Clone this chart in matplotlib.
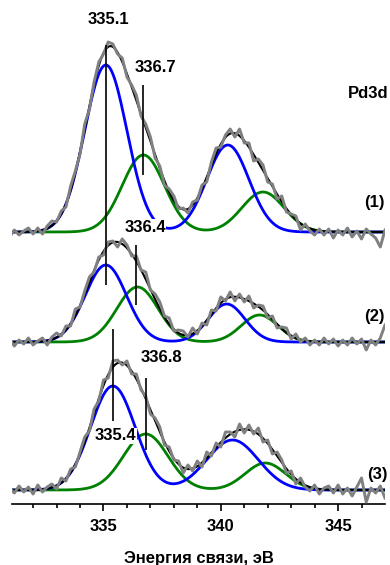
import numpy as np
import matplotlib
matplotlib.use("Agg")
import matplotlib.pyplot as plt

plt.rcParams['font.family'] = ['Liberation Sans', 'DejaVu Sans']
plt.rcParams['font.weight'] = 'bold'

# binding energy grid of the measured spectra, eV
energy = np.linspace(331.0, 347.0, 81)

# measured Pd3d spectra (arb. units above own baseline)
spec1 = [-5, 2, -3, 1, 4, -2, 4, -2, 6, 11,
         10, 21, 25, 46, 61, 78, 108, 123, 150, 170,
         178, 190, 188, 178, 174, 155, 147, 137, 116, 108,
         95, 74, 66, 47, 43, 36, 23, 24, 19, 30,
         32, 47, 50, 70, 84, 85, 97, 103, 95, 103,
         89, 89, 71, 73, 67, 50, 48, 33, 36, 20,
         18, 16, 2, 8, 1, -3, 3, -3, 3, -6,
         2, -3, 4, -5, 1, -7, 3, -2, -6, -15, 2]
spec2 = [3, -4, 2, -2, 4, -3, 1, 4, -3, 5,
         9, 6, 16, 16, 33, 35, 51, 65, 70, 85,
         87, 100, 101, 95, 103, 97, 86, 86, 72, 70,
         52, 48, 40, 26, 24, 11, 12, 11, 5, 14,
         8, 19, 17, 32, 31, 45, 41, 50, 41, 48,
         40, 46, 34, 37, 36, 24, 26, 14, 15, 14,
         3, 8, 0, 4, -3, 2, -3, 4, -2, 3,
         -4, 2, -3, 4, -2, 3, -8, 2, -3, 4, 17]
spec3 = [2, -3, 4, -2, 3, -4, 5, -2, 3, 6,
         1, 12, 9, 21, 23, 38, 53, 59, 81, 89,
         110, 112, 129, 130, 125, 129, 116, 116, 100, 94,
         76, 72, 63, 45, 43, 30, 29, 17, 25, 19,
         29, 23, 38, 34, 47, 43, 58, 58, 53, 66,
         57, 65, 56, 62, 48, 50, 36, 38, 30, 17,
         19, 6, 12, 3, -1, 5, -4, 2, 4, -3,
         5, -4, 2, -6, 3, 12, -12, 2, -3, 4, -8]

# fitted components: (center eV, height, sigma eV) for 3d5/2 and 3d3/2
blue1 = [(335.1, 167, 0.90), (340.3, 87, 0.90)]
green1 = [(336.7, 77, 0.90), (341.8, 40, 0.90)]
blue2 = [(335.1, 77, 0.88), (340.25, 38, 0.78)]
green2 = [(336.45, 55, 0.88), (341.65, 27, 0.78)]
blue3 = [(335.4, 104, 0.95), (340.5, 50, 1.10)]
green3 = [(336.8, 56, 0.95), (341.9, 27, 0.86)]

offsets = [272, 162, 14]
names = ['(1)', '(2)', '(3)']

fine = np.linspace(331.0, 347.0, 641)


def comp(peaks, x):
    y = np.zeros_like(x)
    for c, h, s in peaks:
        y += h * np.exp(-0.5 * ((x - c) / s) ** 2)
    return y


fig = plt.figure(figsize=(3.9, 5.65), dpi=100)
ax = fig.add_axes([12 / 390, 61 / 565, 373 / 390, 504 / 565])

data = [spec1, spec2, spec3]
fits = [(blue1, green1), (blue2, green2), (blue3, green3)]
for raw, (bl, gr), off in zip(data, fits, offsets):
    g = comp(gr, fine)
    b = comp(bl, fine)
    ax.plot(fine, g + off, color='#008000', lw=2.0, zorder=2)
    ax.plot(fine, b + off, color='#0000ff', lw=2.0, zorder=3)
    ax.plot(fine, g + b + off, color='black', lw=1.5, zorder=4)
    ax.plot(energy, np.array(raw) + off, color='#808080', lw=2.1, zorder=5)

# peak markers
ax.vlines([335.1, 336.7, 336.4, 335.4, 336.8],
          [219, 329, 199, 83, 54], [459, 419, 259, 175, 126],
          color='black', lw=1.2, zorder=6)

lab = dict(ha='center', va='center', fontsize=12, fontweight='bold', zorder=7)
ax.text(335.23, 484, '335.1', **lab)
ax.text(337.20, 437, '336.7', **lab)
ax.text(336.77, 277, '336.4', bbox=dict(fc='white', ec='none', pad=0.5), **lab)
ax.text(337.49, 146, '336.8', **lab)
ax.text(335.53, 68, '335.4', bbox=dict(fc='white', ec='none', pad=0.5), **lab)
ax.text(346.27, 411, 'Pd3d', clip_on=False, **lab)
for nm, yy, xx in zip(names, [301, 188, 30], [346.53, 346.53, 346.66]):
    ax.text(xx, yy, nm, clip_on=False, **lab)

ax.set_xlim(331.1, 347.0)
ax.set_ylim(0, 504)
for s in ['left', 'right', 'top']:
    ax.spines[s].set_visible(False)
ax.spines['bottom'].set_linewidth(1.2)
ax.set_yticks([])
ax.set_xticks([335, 340, 345])
ax.set_xticks(np.arange(332, 347), minor=True)
ax.tick_params(axis='x', which='major', direction='out', length=5, width=1.2,
               labelsize=12, pad=6)
ax.tick_params(axis='x', which='minor', direction='out', length=3, width=1.2)
for t in ax.get_xticklabels():
    t.set_fontweight('bold')
ax.set_xlabel('Энергия связи, эВ', fontsize=12, fontweight='bold', labelpad=12)

fig.savefig('out.png', dpi=100)
